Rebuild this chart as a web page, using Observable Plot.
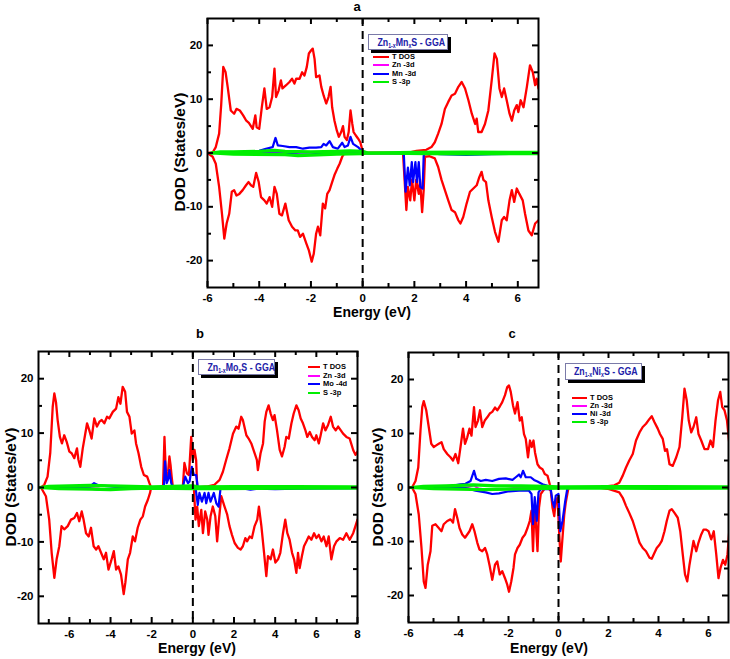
<!DOCTYPE html>
<html><head><meta charset="utf-8">
<script src="https://cdn.jsdelivr.net/npm/d3@7"></script>
<script src="https://cdn.jsdelivr.net/npm/@observablehq/plot@0.6"></script>
<style>
body{margin:0;background:#fff;}
#root{position:relative;width:730px;height:659px;background:#fff;font-family:"Liberation Sans",Arial,sans-serif;font-weight:bold;color:#000;overflow:hidden;}
.abs{position:absolute;}
.lbl{position:absolute;transform:translate(-50%,-50%);white-space:nowrap;}
.box{position:absolute;background:#fff;border:1px solid #7a7aa8;box-shadow:3px 3px 0 #000;color:#2020a8;font-size:11px;line-height:14px;text-align:center;white-space:nowrap;overflow:visible;}
.box span.t{display:inline-block;transform:scaleX(0.8);transform-origin:50% 50%;}
.box sub{font-size:6.5px;vertical-align:-2px;}
.leg{position:absolute;font-size:7.5px;line-height:8px;white-space:nowrap;}
.leg span.sw{display:inline-block;height:2px;vertical-align:middle;margin-right:3px;}
</style></head>
<body><div id="root"></div>
<script>
// ---------- Panel a: Zn1-xMnxS ----------
const aTotUp = [[-6,0],[-5.8,0.1],[-5.68,1.1],[-5.55,3.6],[-5.47,9],[-5.39,16],[-5.3,15],[-5.22,12.3],[-5.1,7.9],[-4.97,7.3],[-4.88,8.2],[-4.75,7.9],[-4.62,7],[-4.5,6],[-4.4,5.6],[-4.25,4.5],[-4.15,7],[-4.1,4.8],[-4.0,4.5],[-3.9,8.5],[-3.8,12],[-3.71,8.2],[-3.6,8.5],[-3.5,10.4],[-3.41,15.7],[-3.35,10.4],[-3.25,11.6],[-3.16,13.5],[-3.1,12],[-2.96,12.6],[-2.83,13.2],[-2.73,13.8],[-2.64,12.9],[-2.57,13.8],[-2.44,13.8],[-2.34,15],[-2.25,14.4],[-2.16,16],[-2.08,18.5],[-1.99,19.1],[-1.93,19.4],[-1.86,17.5],[-1.8,14.1],[-1.67,14.4],[-1.6,12.3],[-1.51,10.7],[-1.41,9.2],[-1.32,10.4],[-1.24,12.3],[-1.18,8.5],[-1.09,6],[-1.0,4.2],[-0.92,3],[-0.83,3.9],[-0.76,5],[-0.7,3],[-0.61,2.4],[-0.54,3.9],[-0.47,7.9],[-0.4,5.4],[-0.35,3.9],[-0.27,3.3],[-0.18,2.7],[-0.09,2],[-0.01,0.5],[0.05,0],[1.7,0],[2.08,0.4],[2.46,0.6],[2.66,1.1],[2.79,2],[2.92,3.6],[3.05,5.4],[3.18,8.2],[3.31,9.5],[3.44,10.7],[3.57,11],[3.7,12.3],[3.83,13.2],[3.96,12],[4.09,9.8],[4.22,7.3],[4.35,5.4],[4.41,6.4],[4.47,3.9],[4.6,3.9],[4.73,5.4],[4.86,7.9],[4.99,13.5],[5.1,18.5],[5.19,17.5],[5.29,12],[5.38,10.4],[5.47,12],[5.57,9.8],[5.68,7.3],[5.77,6],[5.86,7.9],[5.96,8.9],[6.02,7.6],[6.11,9.8],[6.22,8.5],[6.35,12.3],[6.47,16.3],[6.58,15],[6.67,12.6],[6.73,13.8],[6.8,12]];
const aTotDn = [[-6,0],[-5.8,-0.7],[-5.68,-2],[-5.55,-6.3],[-5.44,-11.3],[-5.35,-15.9],[-5.26,-13.1],[-5.16,-11.3],[-5.06,-7.2],[-4.97,-6.9],[-4.88,-7.9],[-4.77,-7.6],[-4.64,-6.9],[-4.51,-6],[-4.41,-5.4],[-4.32,-6],[-4.23,-6.3],[-4.12,-3.7],[-4.02,-5.4],[-3.93,-8.2],[-3.8,-8.8],[-3.71,-9.4],[-3.6,-8.2],[-3.5,-10],[-3.41,-6.3],[-3.32,-7.6],[-3.22,-11.3],[-3.12,-11.6],[-2.99,-9.4],[-2.86,-12.5],[-2.73,-13.7],[-2.6,-14.4],[-2.51,-14.4],[-2.42,-15.6],[-2.31,-15],[-2.18,-16.8],[-2.08,-18.1],[-1.97,-20.2],[-1.89,-18.7],[-1.8,-15],[-1.73,-13.7],[-1.64,-15.3],[-1.54,-9.4],[-1.45,-10.3],[-1.37,-7.6],[-1.28,-6.9],[-1.18,-5.4],[-1.09,-4.1],[-0.98,-2.9],[-0.89,-2],[-0.79,-0.7],[-0.7,0],[1.56,0],[1.69,-10.6],[1.75,-6.3],[1.84,-8.8],[1.91,-5],[2.0,-8.8],[2.07,-5],[2.17,-7.6],[2.22,-5],[2.3,-11],[2.36,-6.9],[2.41,-0.7],[2.59,-0.6],[2.79,-1],[2.92,-2.6],[3.05,-5],[3.18,-6.9],[3.31,-8.8],[3.44,-10.6],[3.57,-11],[3.7,-12.5],[3.78,-13.1],[3.89,-11.9],[4.02,-9.4],[4.15,-7.2],[4.28,-6.6],[4.41,-6],[4.51,-4.5],[4.6,-3.5],[4.67,-5],[4.77,-5.4],[4.86,-8.8],[4.99,-11.9],[5.12,-14.7],[5.25,-16.5],[5.38,-12.5],[5.47,-11.9],[5.57,-12.5],[5.68,-8.8],[5.77,-6.9],[5.86,-9.1],[5.96,-6.6],[6.06,-7.6],[6.19,-8.8],[6.28,-11.3],[6.41,-14.4],[6.54,-15.3],[6.67,-13.1],[6.8,-12.5]];
const aMnUp = [[-5.8,0],[-4.4,0.2],[-4,0.4],[-3.74,0.8],[-3.48,1.1],[-3.37,2.8],[-3.28,1.4],[-3.09,1.3],[-2.83,1.1],[-2.57,1.1],[-2.31,0.8],[-2.06,1.0],[-1.8,1.0],[-1.6,1.1],[-1.51,1.7],[-1.41,1.4],[-1.28,2.2],[-1.15,1.1],[-0.96,0.8],[-0.79,1.9],[-0.7,1.1],[-0.57,1.4],[-0.47,3],[-0.37,1.7],[-0.18,1.1],[0,0.2],[0.1,0],[6.8,0]];
const aMnDn = [[-5.8,0],[-3,-0.1],[-2.5,-0.3],[-2.0,-0.3],[-1.6,-0.1],[1.59,0],[1.66,-7.2],[1.75,-2.7],[1.82,-6],[1.9,-1.7],[1.95,-5.4],[2.04,-1.7],[2.1,-5.4],[2.17,-1.7],[2.23,-6.3],[2.32,-6.6],[2.36,-0.5],[2.41,0],[3,-0.2],[4,-0.35],[5,-0.2],[6.8,-0.1]];
const aZn = [[-5.8,0],[-3,0.1],[-2.4,-0.3],[-2,-0.3],[-1.5,0],[6.8,0]];
const aSUp = [[-5.85,0],[-5.5,0.2],[-5,0.2],[-4,0.3],[-3.4,0.5],[-3,0.3],[-2,0.2],[-1,0.3],[-0.5,0.4],[0,0.3],[0.2,0],[2,0.1],[4,0.15],[6.8,0.1]];
const aSDn = [[-5.85,0],[-5,-0.2],[-3,-0.3],[-2.5,-0.5],[-2,-0.4],[-1,-0.2],[0,-0.1],[0.2,0],[2.5,-0.1],[4,-0.15],[6.8,-0.1]];

// ---------- Panel b: Zn1-xMoxS ----------
const bTotUp = [[-7.5,0],[-7.38,0],[-7.22,0.5],[-7.06,2],[-6.93,6.3],[-6.81,14.8],[-6.73,17.3],[-6.65,15.7],[-6.57,12.4],[-6.46,9.3],[-6.36,8.1],[-6.25,9.6],[-6.13,8.4],[-6.0,6.6],[-5.89,6.3],[-5.76,5.4],[-5.63,7.2],[-5.56,5.1],[-5.47,3.8],[-5.35,7.2],[-5.24,9.6],[-5.14,11.8],[-5.03,10.5],[-4.92,9],[-4.79,12.7],[-4.66,11.2],[-4.54,12.1],[-4.43,12.4],[-4.3,11.8],[-4.17,13],[-4.06,12.7],[-3.89,13.9],[-3.73,14.5],[-3.62,16.6],[-3.52,15.4],[-3.41,18.5],[-3.29,17.6],[-3.2,13.9],[-3.08,13],[-2.97,9.9],[-2.84,10.5],[-2.76,8.1],[-2.64,6.3],[-2.51,3.8],[-2.38,2.3],[-2.22,2],[-2.11,0.8],[-2.03,0],[-1.45,0],[-1.38,9.3],[-1.3,1.4],[-1.2,3],[-1.14,5.7],[-1.08,4],[-1.03,2],[-0.97,0],[-0.49,0],[-0.41,4.5],[-0.29,2.6],[-0.19,2.3],[-0.08,9.3],[0,5],[0.08,6.9],[0.16,5],[0.21,0],[0.73,0.2],[1.05,0.5],[1.3,1.4],[1.46,2.9],[1.62,5.1],[1.78,7.2],[1.95,9.9],[2.11,11.2],[2.22,10.8],[2.35,13],[2.43,12.4],[2.6,9.6],[2.71,9],[2.84,8.1],[3.0,6.3],[3.11,5.1],[3.16,3.2],[3.29,6.3],[3.41,8.1],[3.49,12.1],[3.57,13.9],[3.68,15.1],[3.78,13.6],[3.89,12.4],[3.97,13.3],[4.09,10.5],[4.22,6.9],[4.33,5.7],[4.46,7.5],[4.54,9.3],[4.66,9],[4.79,11.8],[4.9,13.6],[5.03,15.1],[5.14,14.2],[5.24,12.7],[5.35,11.8],[5.47,10.5],[5.56,9.3],[5.68,10.2],[5.79,9.3],[5.92,8.7],[6.0,9.6],[6.12,8.1],[6.21,9.6],[6.33,11.8],[6.44,10.5],[6.57,11.5],[6.7,13],[6.81,11.2],[6.94,10.5],[7.06,11.2],[7.19,10.5],[7.3,9.9],[7.46,9.3],[7.62,9],[7.79,6.9],[7.9,6],[8,6.6]];
const bTotDn = [[-7.5,0],[-7.38,0],[-7.14,-1.6],[-6.98,-5.9],[-6.86,-12],[-6.73,-16.6],[-6.62,-13.2],[-6.49,-10.8],[-6.38,-7.1],[-6.25,-7.7],[-6.08,-7.1],[-5.92,-5.9],[-5.76,-5.6],[-5.63,-4.7],[-5.52,-6.2],[-5.4,-4.4],[-5.31,-5.9],[-5.19,-8.4],[-5.06,-9],[-4.95,-7.4],[-4.82,-10.8],[-4.7,-11.4],[-4.59,-10.8],[-4.46,-12],[-4.33,-13.2],[-4.22,-12],[-4.1,-15.1],[-3.97,-13.5],[-3.84,-11.7],[-3.73,-15.1],[-3.62,-14.5],[-3.49,-16],[-3.36,-19.6],[-3.28,-17.5],[-3.16,-13.2],[-3.05,-12],[-2.92,-9],[-2.81,-9.9],[-2.68,-7.4],[-2.55,-5.9],[-2.43,-5.3],[-2.32,-3.5],[-2.19,-2.3],[-2.08,-1],[-2.03,0],[0.05,0],[0.13,-5.9],[0.21,-3.5],[0.29,-7.1],[0.41,-4.1],[0.49,-8.4],[0.6,-4.4],[0.7,-5.9],[0.76,-8.7],[0.86,-5.3],[0.97,-3.5],[1.09,-5.3],[1.18,-9.9],[1.27,-5.9],[1.38,-1.6],[1.54,-3.5],[1.67,-5],[1.78,-7.1],[1.9,-8.7],[2.03,-10.2],[2.19,-11.1],[2.32,-11.4],[2.43,-10.8],[2.55,-9.3],[2.64,-9.9],[2.76,-9],[2.87,-9.3],[3.0,-7.1],[3.13,-5.9],[3.21,-3.5],[3.33,-7.1],[3.46,-12],[3.57,-16.3],[3.65,-12.6],[3.78,-13.2],[3.89,-11.4],[4.01,-13.8],[4.14,-13.2],[4.25,-12],[4.38,-8.4],[4.49,-5.9],[4.59,-8.4],[4.7,-9.6],[4.82,-12],[4.92,-13.2],[5.03,-15.7],[5.11,-12],[5.19,-14.8],[5.3,-12.6],[5.4,-10.8],[5.52,-9.9],[5.63,-9],[5.76,-9.6],[5.89,-8.4],[6.0,-9.3],[6.12,-8.7],[6.25,-9.9],[6.36,-9],[6.49,-10.8],[6.6,-9],[6.73,-13.2],[6.86,-10.8],[6.98,-9.9],[7.14,-9.3],[7.3,-9.6],[7.46,-8.4],[7.62,-9.6],[7.79,-8.4],[7.9,-7.1],[8,-5.9]];
const bMoUp = [[-7.4,0],[-5,0.2],[-4.8,0.8],[-4.6,0.4],[-4,0.2],[-3.4,0.1],[-2,0],[-1.41,0],[-1.35,4.8],[-1.27,0.8],[-1.2,1.5],[-1.14,3.2],[-1.05,0.8],[-0.97,0],[-0.49,0],[-0.37,2],[-0.24,0.8],[-0.16,1.1],[-0.05,3.8],[0.05,2.3],[0.16,2.3],[0.24,0],[8,0]];
const bMoDn = [[-7.4,0],[-5,-0.2],[-4.5,-0.4],[-4,-0.3],[-3.4,-0.1],[0.13,0],[0.24,-3.2],[0.32,-1],[0.44,-2.6],[0.57,-1],[0.65,-2.9],[0.76,-1],[0.86,-2.6],[1.02,-1],[1.14,-2.9],[1.25,-3.5],[1.35,0],[2.5,-0.2],[2.8,-0.4],[3.2,-0.2],[4,-0.3],[5,-0.2],[8,-0.1]];
const bZn = [[-7.4,0],[-4.6,-0.2],[-4.3,-0.4],[-4.0,-0.3],[-3.5,0],[8,0]];
const bSUp = [[-7.45,0],[-7,0.2],[-6,0.3],[-5,0.4],[-4,0.3],[-3,0.2],[-2,0.1],[-1,0.2],[0,0.3],[0.3,0.1],[2,0.15],[5,0.15],[8,0.1]];
const bSDn = [[-7.45,0],[-6.5,-0.2],[-5,-0.3],[-4,-0.4],[-3,-0.2],[-2,-0.1],[0,-0.2],[1,-0.2],[3,-0.15],[6,-0.1],[8,-0.1]];

// ---------- Panel c: Zn1-xNixS ----------
const cTotUp = [[-6,0],[-5.86,0],[-5.72,1.2],[-5.61,3.7],[-5.52,10.6],[-5.45,14.9],[-5.39,16],[-5.29,14.3],[-5.19,11.2],[-5.09,8.1],[-4.99,7.5],[-4.89,7.8],[-4.79,8.1],[-4.68,8.4],[-4.59,7.1],[-4.45,6.2],[-4.32,5.6],[-4.22,5],[-4.12,6.2],[-4.01,4.5],[-3.92,7.5],[-3.82,10.9],[-3.74,8.1],[-3.65,9.3],[-3.56,10.9],[-3.48,9.6],[-3.38,14.9],[-3.32,11.2],[-3.22,12.4],[-3.14,14.3],[-3.05,11.2],[-2.95,12.4],[-2.85,13],[-2.75,13.7],[-2.65,14],[-2.54,14.8],[-2.45,14.3],[-2.35,15],[-2.25,15.8],[-2.14,17.1],[-2.05,18.6],[-1.98,18.9],[-1.91,17.7],[-1.82,15.2],[-1.74,13.7],[-1.64,15.8],[-1.55,12.4],[-1.47,13],[-1.38,9.9],[-1.31,9],[-1.22,5.6],[-1.14,8.7],[-1.07,7.5],[-1.0,8.7],[-0.94,6.5],[-0.84,4.3],[-0.75,3.7],[-0.64,3.4],[-0.55,2.5],[-0.44,2.2],[-0.35,0.6],[-0.31,0],[1.63,0],[1.9,0.2],[2.23,0.4],[2.43,0.9],[2.57,2.2],[2.7,3.7],[2.83,5],[2.97,6.2],[3.1,8.7],[3.24,10.2],[3.37,11.2],[3.5,11.8],[3.64,12.7],[3.73,13.2],[3.84,12.1],[3.97,10.9],[4.06,9.9],[4.17,9],[4.26,6.8],[4.34,7.1],[4.44,4.3],[4.57,4],[4.71,5.6],[4.84,7.5],[4.95,13],[5.04,18.3],[5.13,16.1],[5.21,12.4],[5.31,10.2],[5.4,11.2],[5.51,13],[5.6,9.9],[5.71,8.7],[5.84,7.1],[5.98,7.1],[6.08,8.7],[6.18,7.5],[6.28,12.4],[6.38,16.1],[6.47,17.7],[6.55,14.9],[6.64,14.3],[6.74,12.4],[6.84,7.8]];
const cTotDn = [[-6,0],[-5.86,0],[-5.72,-1.2],[-5.59,-5],[-5.48,-11.2],[-5.39,-17.4],[-5.32,-18.6],[-5.23,-14.3],[-5.12,-11.8],[-5.05,-7.1],[-4.92,-6.8],[-4.79,-7.5],[-4.68,-8.1],[-4.59,-6.8],[-4.45,-6.2],[-4.32,-5.9],[-4.22,-6.5],[-4.14,-4],[-4.05,-5.6],[-3.96,-7.5],[-3.85,-8.7],[-3.74,-9.3],[-3.65,-8.7],[-3.56,-8.1],[-3.45,-6.8],[-3.36,-8.1],[-3.25,-10.2],[-3.16,-11.5],[-3.05,-11.8],[-2.94,-11.2],[-2.85,-12.4],[-2.75,-14.6],[-2.65,-17.1],[-2.54,-14.3],[-2.45,-13.7],[-2.35,-16.1],[-2.25,-15.5],[-2.14,-16.8],[-2.05,-18],[-1.98,-19.3],[-1.89,-17.4],[-1.8,-14.9],[-1.74,-12.4],[-1.64,-11.2],[-1.55,-10.6],[-1.44,-9.3],[-1.34,-8.7],[-1.24,-7.5],[-1.15,-6.2],[-1.08,-4.3],[-1.02,-11.8],[-0.96,-3.7],[-0.91,-6.2],[-0.84,-11.8],[-0.78,-3.7],[-0.71,-1.2],[-0.57,-0.3],[-0.44,0],[-0.31,-0.6],[-0.24,-3.7],[-0.17,-5.3],[-0.11,-2.5],[-0.04,-1.9],[0.03,-8.7],[0.09,-13.7],[0.16,-9.3],[0.23,-5],[0.29,-2.8],[0.39,-0.3],[0.45,0],[1.63,0],[2.03,-0.3],[2.43,-0.9],[2.57,-1.9],[2.7,-3.4],[2.83,-4.7],[2.97,-6.2],[3.1,-8.1],[3.24,-10.2],[3.37,-11.2],[3.5,-11.8],[3.64,-13],[3.73,-13.2],[3.84,-12.1],[3.93,-11.2],[4.04,-10.6],[4.13,-9.9],[4.24,-8.1],[4.33,-6.2],[4.44,-4.3],[4.53,-4],[4.64,-4.7],[4.77,-5.6],[4.87,-8.1],[4.97,-12.4],[5.06,-16.1],[5.15,-17.4],[5.24,-14.3],[5.33,-11.8],[5.4,-9.9],[5.51,-11.8],[5.6,-10.2],[5.71,-8.7],[5.8,-7.8],[5.91,-7.8],[6.0,-8.1],[6.11,-9.6],[6.21,-8.1],[6.31,-12.4],[6.4,-16.8],[6.48,-14.9],[6.58,-13.4],[6.67,-14.3],[6.76,-12.4],[6.84,-7.5]];
const cNiUp = [[-5.86,0],[-5.05,0],[-4.39,0.2],[-3.92,0.6],[-3.72,0.7],[-3.52,1.2],[-3.38,3.1],[-3.29,1.6],[-3.11,1.2],[-2.91,1.4],[-2.65,1.2],[-2.38,1.6],[-2.11,1.7],[-1.84,1.4],[-1.71,1.9],[-1.58,2.4],[-1.51,1.9],[-1.42,3.1],[-1.31,1.9],[-1.11,1.9],[-0.98,1.4],[-0.84,1.1],[-0.64,0.6],[-0.44,0.3],[-0.31,0],[6.8,0]];
const cNiDn = [[-5.86,0],[-3.72,-0.1],[-3.32,-0.6],[-2.91,-0.9],[-2.65,-1.2],[-2.38,-1.1],[-1.98,-0.7],[-1.58,-0.6],[-1.18,-0.6],[-1.08,-1.2],[-1.02,-6.8],[-0.95,-1.8],[-0.87,-6.2],[-0.8,-0.9],[-0.71,-0.3],[-0.31,-0.3],[-0.24,-2.5],[-0.17,-3.7],[-0.11,-1.5],[0,-1.2],[0.07,-8.1],[0.16,-6.2],[0.27,-2.5],[0.36,0],[6.8,0]];
const cZn = [[-5.86,0],[-3.6,0.1],[-3.38,0.4],[-3.2,-0.2],[-2.8,-0.4],[-2.2,-0.3],[-1.8,-0.1],[6.8,0]];
const cSUp = [[-5.9,0],[-5.4,0.2],[-4.5,0.3],[-3.4,0.5],[-2.5,0.3],[-1.5,0.3],[-0.5,0.2],[0,0.1],[2,0.15],[4,0.15],[6.8,0.1]];
const cSDn = [[-5.9,0],[-5,-0.2],[-4,-0.3],[-3,-0.4],[-2,-0.3],[-1,-0.2],[0,-0.1],[2,-0.1],[4,-0.15],[6.8,-0.1]];

// ---------- Axes / labels ----------
const yMajor = [-20, -10, 0, 10, 20];
const yMinor = [-15, -5, 5, 15];
const yDomain = [-25, 25];
const fermi = [0];
const xLabel = "Energy (eV)";
const yLabel = "DOD (States/eV)";
const seriesColors = {tdos: "#ff0000", zn: "#ff00ff", tm: "#0000ff", s: "#00ee00"};

const panels = [
  {id: "a", tot: [aTotUp, aTotDn], tm: [aMnUp, aMnDn], zn: [aZn], s: [aSUp, aSDn],
   xDomain: [-6, 6.8], xMajor: [-6, -4, -2, 0, 2, 4, 6], xMinor: [-5, -3, -1, 1, 3, 5],
   left: 150, top: 0, width: 400, height: 320, m: [18, 12, 33, 57],
   legendTitle: "Zn<sub>1-x</sub>Mn<sub>x</sub>S - GGA", legendNames: ["T DOS", "Zn -3d", "Mn -3d", "S -3p"]},
  {id: "b", tot: [bTotUp, bTotDn], tm: [bMoUp, bMoDn], zn: [bZn], s: [bSUp, bSDn],
   xDomain: [-7.5, 8], xMajor: [-6, -4, -2, 0, 2, 4, 6, 8], xMinor: [-7, -5, -3, -1, 1, 3, 5, 7],
   left: 0, top: 330, width: 370, height: 320, m: [21, 13, 27, 38],
   legendTitle: "Zn<sub>1-x</sub>Mo<sub>x</sub>S - GGA", legendNames: ["T DOS", "Zn -3d", "Mo -4d", "S -3p"]},
  {id: "c", tot: [cTotUp, cTotDn], tm: [cNiUp, cNiDn], zn: [cZn], s: [cSUp, cSDn],
   xDomain: [-6, 6.8], xMajor: [-6, -4, -2, 0, 2, 4, 6], xMinor: [-5, -3, -1, 1, 3, 5],
   left: 370, top: 330, width: 360, height: 320, m: [22, 2, 28, 38],
   legendTitle: "Zn<sub>1-x</sub>Ni<sub>x</sub>S - GGA", legendNames: ["T DOS", "Zn -3d", "Ni -3d", "S -3p"]}
];

const root = document.getElementById("root");
const lineOpts = (color, w) => ({x: d => d[0], y: d => d[1], stroke: color, strokeWidth: w, strokeLinejoin: "round", curve: "linear"});
const MAJ = 6, MIN = 4;

for (const p of panels) {
  const [mt, mr, mb, ml] = p.m;
  const fw = p.width - ml - mr, fh = p.height - mt - mb;
  // inward tick marks drawn as short rules hugging the frame
  const tickMarks = [];
  for (const [vals, len] of [[p.xMajor, MAJ], [p.xMinor, MIN]]) {
    tickMarks.push(Plot.ruleX(vals, {insetTop: fh - len, stroke: "#000", strokeWidth: 2}));
    tickMarks.push(Plot.ruleX(vals, {insetBottom: fh - len, stroke: "#000", strokeWidth: 2}));
  }
  for (const [vals, len] of [[yMajor, MAJ], [yMinor, MIN]]) {
    tickMarks.push(Plot.ruleY(vals, {insetRight: fw - len, stroke: "#000", strokeWidth: 2}));
    tickMarks.push(Plot.ruleY(vals, {insetLeft: fw - len, stroke: "#000", strokeWidth: 2}));
  }
  const chart = Plot.plot({
    width: p.width, height: p.height,
    marginTop: mt, marginRight: mr, marginBottom: mb, marginLeft: ml,
    x: {domain: p.xDomain, label: null},
    y: {domain: yDomain, label: null},
    style: {fontFamily: "'Liberation Sans', Arial, sans-serif", fontSize: "11.5px", fontWeight: "bold", color: "#000", background: "transparent"},
    marks: [
      ...p.tot.map(s => Plot.line(s, {...lineOpts(seriesColors.tdos, 2.3), clip: true})),
      ...p.zn.map(s => Plot.line(s, {...lineOpts(seriesColors.zn, 2), clip: true})),
      ...p.tm.map(s => Plot.line(s, {...lineOpts(seriesColors.tm, 2.2), clip: true})),
      ...p.s.map(s => Plot.line(s, {...lineOpts(seriesColors.s, 3.2), clip: true})),
      Plot.ruleX(fermi, {stroke: "#000", strokeWidth: 2, strokeDasharray: "8,5"}),
      Plot.axisX(p.xMajor, {anchor: "bottom", tickSize: 0, tickPadding: 6, label: null, tickFormat: d => String(d)}),
      Plot.axisY(yMajor, {anchor: "left", tickSize: 0, tickPadding: 5, label: null, tickFormat: d => String(d)}),
      ...tickMarks,
      Plot.frame({stroke: "#000", strokeWidth: 2})
    ]
  });
  const holder = document.createElement("div");
  holder.className = "abs";
  holder.style.left = p.left + "px";
  holder.style.top = p.top + "px";
  holder.appendChild(chart);
  root.appendChild(holder);
}

function addLabel(text, x, y, size, rotate) {
  const d = document.createElement("div");
  d.className = "lbl";
  d.textContent = text;
  d.style.left = x + "px";
  d.style.top = y + "px";
  d.style.fontSize = size + "px";
  if (rotate) d.style.transform = "translate(-50%,-50%) rotate(-90deg)";
  root.appendChild(d);
}
// panel titles
addLabel("a", 357, 6, 13);
addLabel("b", 200, 333, 13);
addLabel("c", 512, 333, 13);
// axis titles
addLabel(xLabel, 372, 312, 14);
addLabel(xLabel, 197, 648, 14);
addLabel(xLabel, 549, 648, 14);
addLabel(yLabel, 180, 152, 15.5, true);
addLabel(yLabel, 11, 487, 15.5, true);
addLabel(yLabel, 378, 487, 15.5, true);

// legends
const legendLayout = [
  {box: [368, 34, 78, 14], lx: 373, ly: [57.3, 65.3, 73.7, 82.3], sw: 16},
  {box: [198, 359, 75, 14], lx: 308, ly: [367, 375.5, 384, 392.5], sw: 12},
  {box: [565, 363, 75, 15], lx: 572, ly: [397.7, 406, 414.3, 422.3], sw: 15}
];
const legendColors = [seriesColors.tdos, seriesColors.zn, seriesColors.tm, seriesColors.s];
panels.forEach((p, i) => {
  const L = legendLayout[i];
  const b = document.createElement("div");
  b.className = "box";
  b.style.left = L.box[0] + "px"; b.style.top = L.box[1] + "px";
  b.style.width = L.box[2] + "px"; b.style.height = L.box[3] + "px";
  b.innerHTML = `<span class="t">${p.legendTitle}</span>`;
  root.appendChild(b);
  p.legendNames.forEach((name, k) => {
    const e = document.createElement("div");
    e.className = "leg";
    e.style.left = L.lx + "px";
    e.style.top = (L.ly[k] - 4) + "px";
    e.innerHTML = `<span class="sw" style="width:${L.sw}px;background:${legendColors[k]}"></span>${name}`;
    root.appendChild(e);
  });
});
</script>
</body></html>
